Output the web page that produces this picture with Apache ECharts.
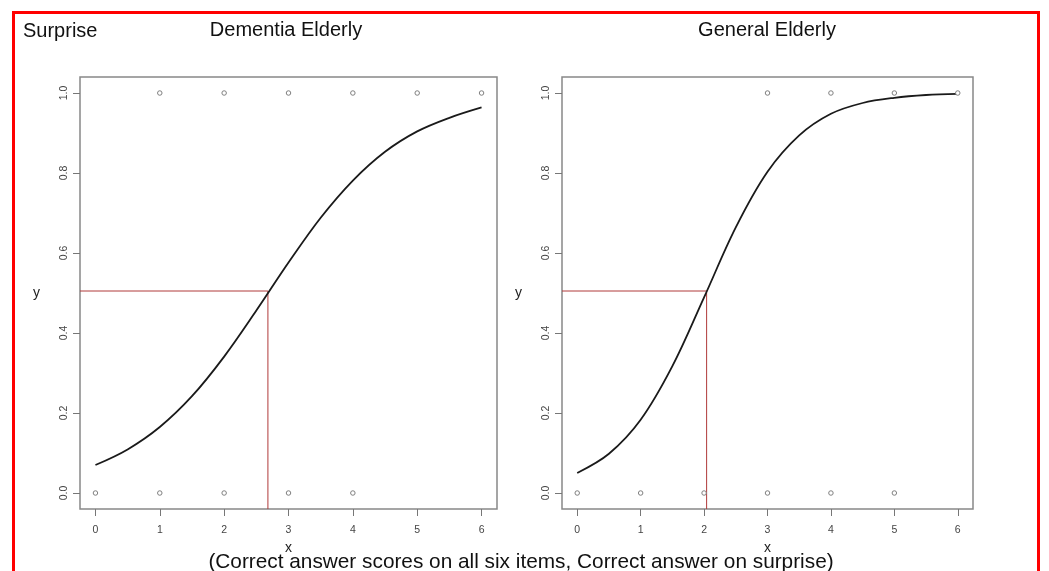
<!DOCTYPE html>
<html>
<head>
<meta charset="utf-8">
<script src="https://cdn.jsdelivr.net/npm/echarts@6/dist/echarts.min.js"></script>
<style>
html,body{margin:0;padding:0;background:#fff;}
#chart{width:1049px;height:571px;}
</style>
</head>
<body>
<div id="chart"></div>
<script>
// ---- data ----
const xTicks = [0, 1, 2, 3, 4, 5, 6];
const yTicks = [0, 0.2, 0.4, 0.6, 0.8, 1.0];

// observed responses (x = total score, y = correct on surprise)
const dementiaPoints = [[1,1],[2,1],[3,1],[4,1],[5,1],[6,1],[0,0],[1,0],[2,0],[3,0],[4,0]];
const generalPoints  = [[3,1],[4,1],[5,1],[6,1],[0,0],[1,0],[2,0],[3,0],[4,0],[5,0]];

// fitted curve, read at half-unit steps
const curveX        = [0, 0.5, 1, 1.5, 2, 2.5, 3, 3.5, 4, 4.5, 5, 5.5, 6];
const dementiaCurve = [0.070, 0.109, 0.165, 0.242, 0.341, 0.456, 0.576, 0.688, 0.781, 0.853, 0.904, 0.938, 0.964];
const generalCurve  = [0.050, 0.098, 0.183, 0.317, 0.489, 0.664, 0.803, 0.894, 0.948, 0.975, 0.988, 0.995, 0.998];

// 50% cut-off reference lines
const cutY = 0.505;
const dementiaCutX = 2.68;
const generalCutX = 2.04;

const titles = ['Dementia Elderly', 'General Elderly'];
const caption = '(Correct answer scores on all six items, Correct answer on surprise)';

// ---- chart ----
const FONT = '"Liberation Sans", Arial, sans-serif';
const X_MIN = -0.24, X_MAX = 6.24, Y_MIN = -0.04, Y_MAX = 1.04;

function zip(xs, ys){ return xs.map((x,i)=>[x, ys[i]]); }

const grids = [
  {left: 80, top: 77, width: 417, height: 432},
  {left: 562, top: 77, width: 411, height: 432}
];

function xAxis(i){
  return {
    type:'value', gridIndex:i, min:X_MIN, max:X_MAX, position:'bottom',
    name:'x', nameLocation:'middle', nameGap:32,
    nameTextStyle:{fontFamily:FONT, fontSize:14, color:'#222'},
    axisLine:{show:false, onZero:false},
    splitLine:{show:false},
    axisTick:{show:true, inside:false, length:7, customValues:xTicks, lineStyle:{color:'#777', width:1}},
    axisLabel:{customValues:xTicks, margin:16, fontFamily:FONT, fontSize:10.5, color:'#444'}
  };
}
function yAxis(i){
  return {
    type:'value', gridIndex:i, min:Y_MIN, max:Y_MAX, position:'left',
    name:'y', nameLocation:'middle', nameGap:40, nameRotate:0,
    nameTextStyle:{fontFamily:FONT, fontSize:14, color:'#222'},
    axisLine:{show:false, onZero:false},
    splitLine:{show:false},
    axisTick:{show:true, inside:false, length:7, customValues:yTicks, lineStyle:{color:'#777', width:1}},
    axisLabel:{customValues:yTicks, rotate:90, margin:10, fontFamily:FONT, fontSize:10.5, color:'#444',
      formatter: v => Number(v).toFixed(1)}
  };
}

function cutLine(i, cx){
  return {
    type:'line', xAxisIndex:i, yAxisIndex:i, silent:true, symbol:'none',
    lineStyle:{color:'#b03a3a', width:1}, z:1,
    data:[[X_MIN, cutY],[cx, cutY],[cx, Y_MIN]]
  };
}
function curve(i, ys){
  return {
    type:'line', xAxisIndex:i, yAxisIndex:i, silent:true, symbol:'none', smooth:0.35,
    lineStyle:{color:'#1a1a1a', width:1.8}, z:3,
    data: zip(curveX, ys)
  };
}
function points(i, pts){
  return {
    type:'scatter', xAxisIndex:i, yAxisIndex:i, silent:true,
    symbol:'circle', symbolSize:4.5,
    itemStyle:{color:'#ffffff', borderColor:'#808080', borderWidth:1, opacity:1}, z:4,
    data: pts
  };
}

const chart = echarts.init(document.getElementById('chart'), null, {renderer:'canvas'});
chart.setOption({
  animation:false,
  backgroundColor:'#fff',
  title:[
    {text:'Surprise', left:18, top:16, textStyle:{fontFamily:FONT, fontSize:20, fontWeight:'normal', color:'#111'}},
    {text:titles[0], left:281, textAlign:'center', top:15, textStyle:{fontFamily:FONT, fontSize:20, fontWeight:'normal', color:'#111'}},
    {text:titles[1], left:762, textAlign:'center', top:15, textStyle:{fontFamily:FONT, fontSize:20, fontWeight:'normal', color:'#111'}},
    {text:caption, left:516, textAlign:'center', top:547, textStyle:{fontFamily:FONT, fontSize:20.8, fontWeight:'normal', color:'#111'}}
  ],
  grid: grids.map(g => Object.assign({show:true, borderColor:'#888', borderWidth:1.5, backgroundColor:'transparent', containLabel:false}, g)),
  xAxis:[xAxis(0), xAxis(1)],
  yAxis:[yAxis(0), yAxis(1)],
  series:[
    cutLine(0, dementiaCutX), curve(0, dementiaCurve), points(0, dementiaPoints),
    cutLine(1, generalCutX),  curve(1, generalCurve),  points(1, generalPoints)
  ],
  graphic:[
    {type:'rect', silent:true, z:100, shape:{x:13.5, y:12.5, width:1025, height:600},
     style:{fill:'none', stroke:'#ff0000', lineWidth:3}}
  ]
});
</script>
</body>
</html>
